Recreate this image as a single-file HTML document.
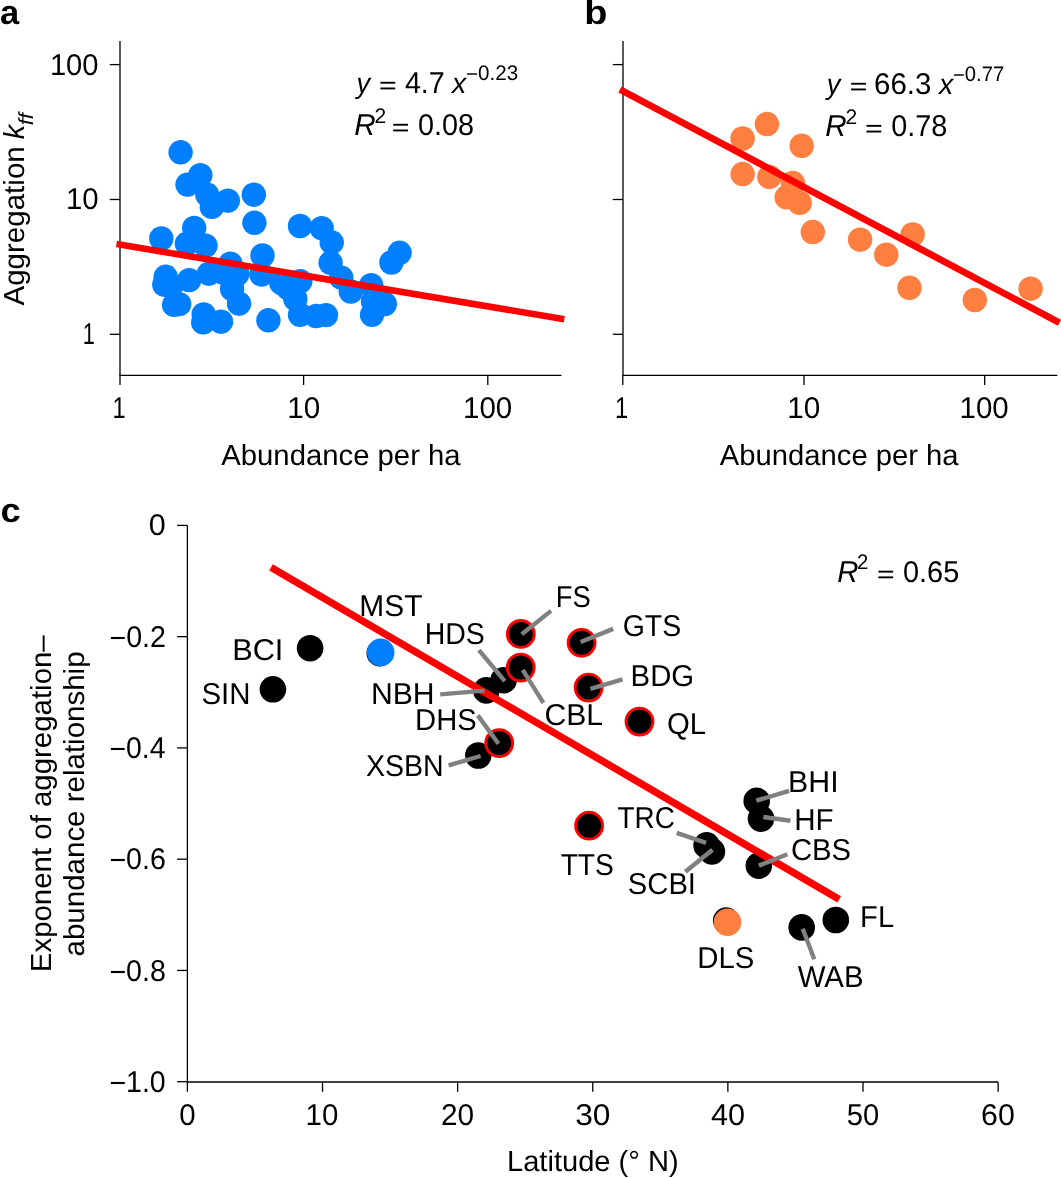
<!DOCTYPE html>
<html><head><meta charset="utf-8"><style>
html,body{margin:0;padding:0;background:#fff;}
svg{display:block;will-change:transform;}
text{font-family:"Liberation Sans",sans-serif;fill:#000;text-rendering:geometricPrecision;}
</style></head><body>
<svg width="1061" height="1178" viewBox="0 0 1061 1178">
<rect width="1061" height="1178" fill="#fff"/>
<text x="-0.01" y="24.30" font-size="34" font-weight="bold" textLength="19.19" lengthAdjust="spacingAndGlyphs">a</text>
<text x="584.20" y="24.10" font-size="34" font-weight="bold" textLength="23.15" lengthAdjust="spacingAndGlyphs">b</text>
<text x="0.48" y="521.70" font-size="34" font-weight="bold" textLength="20.18" lengthAdjust="spacingAndGlyphs">c</text>
<line x1="120" y1="41" x2="120" y2="375.4" stroke="#000" stroke-width="1.3" stroke-linecap="butt"/>
<line x1="119.35" y1="375.4" x2="561.4" y2="375.4" stroke="#000" stroke-width="1.3" stroke-linecap="butt"/>
<line x1="109.8" y1="64.6" x2="120" y2="64.6" stroke="#000" stroke-width="1.3" stroke-linecap="butt"/>
<line x1="109.8" y1="199.5" x2="120" y2="199.5" stroke="#000" stroke-width="1.3" stroke-linecap="butt"/>
<line x1="109.8" y1="334.3" x2="120" y2="334.3" stroke="#000" stroke-width="1.3" stroke-linecap="butt"/>
<line x1="120" y1="375.4" x2="120" y2="385" stroke="#000" stroke-width="1.3" stroke-linecap="butt"/>
<line x1="303.6" y1="375.4" x2="303.6" y2="385" stroke="#000" stroke-width="1.3" stroke-linecap="butt"/>
<line x1="487.8" y1="375.4" x2="487.8" y2="385" stroke="#000" stroke-width="1.3" stroke-linecap="butt"/>
<line x1="623" y1="41" x2="623" y2="375.4" stroke="#000" stroke-width="1.3" stroke-linecap="butt"/>
<line x1="622.35" y1="375.4" x2="1057.3" y2="375.4" stroke="#000" stroke-width="1.3" stroke-linecap="butt"/>
<line x1="612.8" y1="64.6" x2="623" y2="64.6" stroke="#000" stroke-width="1.3" stroke-linecap="butt"/>
<line x1="612.8" y1="199.5" x2="623" y2="199.5" stroke="#000" stroke-width="1.3" stroke-linecap="butt"/>
<line x1="612.8" y1="334.3" x2="623" y2="334.3" stroke="#000" stroke-width="1.3" stroke-linecap="butt"/>
<line x1="622.8" y1="375.4" x2="622.8" y2="385" stroke="#000" stroke-width="1.3" stroke-linecap="butt"/>
<line x1="804" y1="375.4" x2="804" y2="385" stroke="#000" stroke-width="1.3" stroke-linecap="butt"/>
<line x1="984.7" y1="375.4" x2="984.7" y2="385" stroke="#000" stroke-width="1.3" stroke-linecap="butt"/>
<text x="49.88" y="74.80" font-size="30.1" textLength="48.66" lengthAdjust="spacingAndGlyphs">100</text>
<text x="65.96" y="208.90" font-size="30.1" textLength="32.69" lengthAdjust="spacingAndGlyphs">10</text>
<text x="82.64" y="343.90" font-size="30.1" textLength="12.13" lengthAdjust="spacingAndGlyphs">1</text>
<text x="112.60" y="417.90" font-size="30.1" textLength="13.16" lengthAdjust="spacingAndGlyphs">1</text>
<text x="287.14" y="417.90" font-size="30.1" textLength="33.02" lengthAdjust="spacingAndGlyphs">10</text>
<text x="463.05" y="417.90" font-size="30.1" textLength="49.20" lengthAdjust="spacingAndGlyphs">100</text>
<text x="614.90" y="417.90" font-size="30.1" textLength="13.16" lengthAdjust="spacingAndGlyphs">1</text>
<text x="787.14" y="417.90" font-size="30.1" textLength="33.02" lengthAdjust="spacingAndGlyphs">10</text>
<text x="959.55" y="417.90" font-size="30.1" textLength="49.20" lengthAdjust="spacingAndGlyphs">100</text>
<text x="221.24" y="464.80" font-size="29" textLength="239.36" lengthAdjust="spacingAndGlyphs">Abundance per ha</text>
<text x="719.84" y="464.80" font-size="29" textLength="238.76" lengthAdjust="spacingAndGlyphs">Abundance per ha</text>
<text transform="rotate(-90)" x="-305.56" y="23.80" font-size="29" textLength="159.28" lengthAdjust="spacingAndGlyphs">Aggregation</text>
<text transform="rotate(-90)" x="-139.28" y="23.80" font-size="29" font-style="italic">k</text>
<text transform="rotate(-90)" x="-125.35" y="32.90" font-size="20.5" font-style="italic" textLength="12.33" lengthAdjust="spacingAndGlyphs">ff</text>
<circle cx="180.6" cy="152.3" r="12.2" fill="#0080ff"/>
<circle cx="200.3" cy="175.2" r="12.2" fill="#0080ff"/>
<circle cx="187.5" cy="184.6" r="12.2" fill="#0080ff"/>
<circle cx="207.3" cy="194.8" r="12.2" fill="#0080ff"/>
<circle cx="211.8" cy="206.9" r="12.2" fill="#0080ff"/>
<circle cx="227.8" cy="200.7" r="12.2" fill="#0080ff"/>
<circle cx="253.8" cy="194.7" r="12.2" fill="#0080ff"/>
<circle cx="254.4" cy="222.8" r="12.2" fill="#0080ff"/>
<circle cx="194.2" cy="227.9" r="12.2" fill="#0080ff"/>
<circle cx="161.3" cy="238.5" r="12.2" fill="#0080ff"/>
<circle cx="186.9" cy="243.7" r="12.2" fill="#0080ff"/>
<circle cx="205.5" cy="245.6" r="12.2" fill="#0080ff"/>
<circle cx="230.4" cy="263.6" r="12.2" fill="#0080ff"/>
<circle cx="262.5" cy="255.5" r="12.2" fill="#0080ff"/>
<circle cx="165.7" cy="276.8" r="12.2" fill="#0080ff"/>
<circle cx="164.3" cy="284.7" r="12.2" fill="#0080ff"/>
<circle cx="189.2" cy="280.1" r="12.2" fill="#0080ff"/>
<circle cx="208.9" cy="273.7" r="12.2" fill="#0080ff"/>
<circle cx="223" cy="272.5" r="12.2" fill="#0080ff"/>
<circle cx="237.3" cy="274" r="12.2" fill="#0080ff"/>
<circle cx="232.1" cy="289" r="12.2" fill="#0080ff"/>
<circle cx="239" cy="303.7" r="12.2" fill="#0080ff"/>
<circle cx="261.4" cy="274.5" r="12.2" fill="#0080ff"/>
<circle cx="174.1" cy="304.9" r="12.2" fill="#0080ff"/>
<circle cx="179.2" cy="304.1" r="12.2" fill="#0080ff"/>
<circle cx="203.7" cy="314.4" r="12.2" fill="#0080ff"/>
<circle cx="203.2" cy="322.4" r="12.2" fill="#0080ff"/>
<circle cx="221" cy="321.7" r="12.2" fill="#0080ff"/>
<circle cx="268.4" cy="320.3" r="12.2" fill="#0080ff"/>
<circle cx="300" cy="226" r="12.2" fill="#0080ff"/>
<circle cx="321.7" cy="228.1" r="12.2" fill="#0080ff"/>
<circle cx="331.7" cy="242.4" r="12.2" fill="#0080ff"/>
<circle cx="330.6" cy="262.8" r="12.2" fill="#0080ff"/>
<circle cx="341.3" cy="277.7" r="12.2" fill="#0080ff"/>
<circle cx="371.2" cy="285.2" r="12.2" fill="#0080ff"/>
<circle cx="391.4" cy="262.5" r="12.2" fill="#0080ff"/>
<circle cx="399.6" cy="252.8" r="12.2" fill="#0080ff"/>
<circle cx="300.3" cy="281.3" r="12.2" fill="#0080ff"/>
<circle cx="281.5" cy="283.2" r="12.2" fill="#0080ff"/>
<circle cx="295.3" cy="299" r="12.2" fill="#0080ff"/>
<circle cx="300" cy="314.8" r="12.2" fill="#0080ff"/>
<circle cx="316.2" cy="316" r="12.2" fill="#0080ff"/>
<circle cx="326" cy="315.1" r="12.2" fill="#0080ff"/>
<circle cx="350.8" cy="291.5" r="12.2" fill="#0080ff"/>
<circle cx="384.8" cy="304" r="12.2" fill="#0080ff"/>
<circle cx="372" cy="314.8" r="12.2" fill="#0080ff"/>
<circle cx="373" cy="301.3" r="12.2" fill="#0080ff"/>
<circle cx="288" cy="288" r="12.2" fill="#0080ff"/>
<circle cx="171" cy="286.4" r="12.2" fill="#0080ff"/>
<line x1="116.5" y1="244.0" x2="564.3" y2="319.2" stroke="#ff0000" stroke-width="6.5" stroke-linecap="butt"/>
<text x="356.44" y="92.80" font-size="29" font-style="italic" textLength="13.59" lengthAdjust="spacingAndGlyphs">y</text>
<rect x="380.40" y="81.80" width="14.8" height="1.9" fill="#000"/>
<rect x="380.40" y="87.50" width="14.8" height="1.9" fill="#000"/>
<text x="404.94" y="92.70" font-size="30.1" textLength="39.80" lengthAdjust="spacingAndGlyphs">4.7</text>
<text x="452.04" y="92.80" font-size="29" font-style="italic" textLength="14.23" lengthAdjust="spacingAndGlyphs">x</text>
<text x="465.98" y="79.90" font-size="21" textLength="52.12" lengthAdjust="spacingAndGlyphs"><tspan dy="1.15">−</tspan><tspan dy="-1.15">0.23</tspan></text>
<text x="354.19" y="134.80" font-size="30.1" font-style="italic" textLength="21.43" lengthAdjust="spacingAndGlyphs">R</text>
<text x="374.64" y="122.80" font-size="21" textLength="11.72" lengthAdjust="spacingAndGlyphs">2</text>
<rect x="393.20" y="123.80" width="14.8" height="1.9" fill="#000"/>
<rect x="393.20" y="129.50" width="14.8" height="1.9" fill="#000"/>
<text x="418.07" y="134.50" font-size="30.1" textLength="56.08" lengthAdjust="spacingAndGlyphs">0.08</text>
<circle cx="742.6" cy="138.5" r="12.25" fill="#ff7f40"/>
<circle cx="766.9" cy="124.1" r="12.25" fill="#ff7f40"/>
<circle cx="801.7" cy="145.8" r="12.25" fill="#ff7f40"/>
<circle cx="742.6" cy="174.1" r="12.25" fill="#ff7f40"/>
<circle cx="769.4" cy="176.9" r="12.25" fill="#ff7f40"/>
<circle cx="792.9" cy="183.1" r="12.25" fill="#ff7f40"/>
<circle cx="786.7" cy="197.3" r="12.25" fill="#ff7f40"/>
<circle cx="799.7" cy="202.9" r="12.25" fill="#ff7f40"/>
<circle cx="812.8" cy="232.1" r="12.25" fill="#ff7f40"/>
<circle cx="860.1" cy="239.7" r="12.25" fill="#ff7f40"/>
<circle cx="886.3" cy="254.7" r="12.25" fill="#ff7f40"/>
<circle cx="912.6" cy="234.5" r="12.25" fill="#ff7f40"/>
<circle cx="909.5" cy="287.8" r="12.25" fill="#ff7f40"/>
<circle cx="974.8" cy="300.0" r="12.25" fill="#ff7f40"/>
<circle cx="1030.6" cy="288.7" r="12.25" fill="#ff7f40"/>
<line x1="620.0" y1="89.5" x2="1059.5" y2="322.8" stroke="#ff0000" stroke-width="6.8" stroke-linecap="butt"/>
<text x="826.65" y="93.80" font-size="29" font-style="italic" textLength="13.68" lengthAdjust="spacingAndGlyphs">y</text>
<rect x="851.10" y="82.80" width="14.8" height="1.9" fill="#000"/>
<rect x="851.10" y="88.50" width="14.8" height="1.9" fill="#000"/>
<text x="874.11" y="93.60" font-size="30.1" textLength="57.29" lengthAdjust="spacingAndGlyphs">66.3</text>
<text x="939.05" y="93.80" font-size="29" font-style="italic" textLength="14.31" lengthAdjust="spacingAndGlyphs">x</text>
<text x="953.00" y="80.70" font-size="21" textLength="51.22" lengthAdjust="spacingAndGlyphs"><tspan dy="1.15">−</tspan><tspan dy="-1.15">0.77</tspan></text>
<text x="825.19" y="135.90" font-size="30.1" font-style="italic" textLength="21.43" lengthAdjust="spacingAndGlyphs">R</text>
<text x="845.64" y="123.80" font-size="21" textLength="11.72" lengthAdjust="spacingAndGlyphs">2</text>
<rect x="866.50" y="124.90" width="14.8" height="1.9" fill="#000"/>
<rect x="866.50" y="130.60" width="14.8" height="1.9" fill="#000"/>
<text x="891.27" y="135.70" font-size="30.1" textLength="56.08" lengthAdjust="spacingAndGlyphs">0.78</text>
<line x1="187.4" y1="525.4" x2="187.4" y2="1082.0" stroke="#000" stroke-width="1.3" stroke-linecap="butt"/>
<line x1="186.75" y1="1082.0" x2="998" y2="1082.0" stroke="#000" stroke-width="1.3" stroke-linecap="butt"/>
<line x1="177.1" y1="525.4" x2="187.4" y2="525.4" stroke="#000" stroke-width="1.3" stroke-linecap="butt"/>
<line x1="177.1" y1="636.66" x2="187.4" y2="636.66" stroke="#000" stroke-width="1.3" stroke-linecap="butt"/>
<line x1="177.1" y1="747.92" x2="187.4" y2="747.92" stroke="#000" stroke-width="1.3" stroke-linecap="butt"/>
<line x1="177.1" y1="859.1800000000001" x2="187.4" y2="859.1800000000001" stroke="#000" stroke-width="1.3" stroke-linecap="butt"/>
<line x1="177.1" y1="970.44" x2="187.4" y2="970.44" stroke="#000" stroke-width="1.3" stroke-linecap="butt"/>
<line x1="177.1" y1="1081.7" x2="187.4" y2="1081.7" stroke="#000" stroke-width="1.3" stroke-linecap="butt"/>
<line x1="187.4" y1="1082.0" x2="187.4" y2="1091.8" stroke="#000" stroke-width="1.3" stroke-linecap="butt"/>
<line x1="322.52" y1="1082.0" x2="322.52" y2="1091.8" stroke="#000" stroke-width="1.3" stroke-linecap="butt"/>
<line x1="457.64" y1="1082.0" x2="457.64" y2="1091.8" stroke="#000" stroke-width="1.3" stroke-linecap="butt"/>
<line x1="592.76" y1="1082.0" x2="592.76" y2="1091.8" stroke="#000" stroke-width="1.3" stroke-linecap="butt"/>
<line x1="727.88" y1="1082.0" x2="727.88" y2="1091.8" stroke="#000" stroke-width="1.3" stroke-linecap="butt"/>
<line x1="863.0" y1="1082.0" x2="863.0" y2="1091.8" stroke="#000" stroke-width="1.3" stroke-linecap="butt"/>
<line x1="998.12" y1="1082.0" x2="998.12" y2="1091.8" stroke="#000" stroke-width="1.3" stroke-linecap="butt"/>
<text x="148.81" y="535.40" font-size="30.1" textLength="16.99" lengthAdjust="spacingAndGlyphs">0</text>
<text x="109.38" y="646.86" font-size="30.1" textLength="56.66" lengthAdjust="spacingAndGlyphs"><tspan dy="1.0">−</tspan><tspan dy="-1.0">0.2</tspan></text>
<text x="109.40" y="758.12" font-size="30.1" textLength="56.03" lengthAdjust="spacingAndGlyphs"><tspan dy="1.0">−</tspan><tspan dy="-1.0">0.4</tspan></text>
<text x="109.39" y="869.38" font-size="30.1" textLength="56.47" lengthAdjust="spacingAndGlyphs"><tspan dy="1.0">−</tspan><tspan dy="-1.0">0.6</tspan></text>
<text x="109.39" y="980.64" font-size="30.1" textLength="56.45" lengthAdjust="spacingAndGlyphs"><tspan dy="1.0">−</tspan><tspan dy="-1.0">0.8</tspan></text>
<text x="109.39" y="1091.90" font-size="30.1" textLength="56.32" lengthAdjust="spacingAndGlyphs"><tspan dy="1.0">−</tspan><tspan dy="-1.0">1.0</tspan></text>
<text x="179.20" y="1124.50" font-size="30.1" textLength="16.40" lengthAdjust="spacingAndGlyphs">0</text>
<text x="305.57" y="1124.50" font-size="30.1" textLength="32.80" lengthAdjust="spacingAndGlyphs">10</text>
<text x="440.89" y="1124.50" font-size="30.1" textLength="33.16" lengthAdjust="spacingAndGlyphs">20</text>
<text x="575.15" y="1124.50" font-size="30.1" textLength="35.24" lengthAdjust="spacingAndGlyphs">30</text>
<text x="711.08" y="1124.50" font-size="30.1" textLength="34.10" lengthAdjust="spacingAndGlyphs">40</text>
<text x="846.78" y="1124.50" font-size="30.1" textLength="32.40" lengthAdjust="spacingAndGlyphs">50</text>
<text x="981.08" y="1124.50" font-size="30.1" textLength="33.72" lengthAdjust="spacingAndGlyphs">60</text>
<text x="507.02" y="1171.40" font-size="29" textLength="171.59" lengthAdjust="spacingAndGlyphs">Latitude (° N)</text>
<text transform="rotate(-90)" x="-972.21" y="51.00" font-size="29" textLength="336.93" lengthAdjust="spacingAndGlyphs">Exponent of aggregation–</text>
<text transform="rotate(-90)" x="-956.45" y="83.90" font-size="29" textLength="304.99" lengthAdjust="spacingAndGlyphs">abundance relationship</text>
<text x="837.20" y="581.70" font-size="30.1" font-style="italic" textLength="21.21" lengthAdjust="spacingAndGlyphs">R</text>
<text x="856.97" y="568.60" font-size="21" textLength="11.35" lengthAdjust="spacingAndGlyphs">2</text>
<rect x="878.40" y="570.70" width="14.8" height="1.9" fill="#000"/>
<rect x="878.40" y="576.40" width="14.8" height="1.9" fill="#000"/>
<text x="902.97" y="581.70" font-size="30.1" textLength="56.24" lengthAdjust="spacingAndGlyphs">0.65</text>
<circle cx="310.1" cy="648.2" r="13.3" fill="#000"/>
<circle cx="272.9" cy="689.3" r="13.3" fill="#000"/>
<circle cx="379.8" cy="653.2" r="13.3" fill="#000"/>
<circle cx="486.3" cy="690.4" r="13.3" fill="#000"/>
<circle cx="503.6" cy="680.2" r="13.3" fill="#000"/>
<circle cx="478.3" cy="755.5" r="13.3" fill="#000"/>
<circle cx="706.6" cy="845.4" r="13.3" fill="#000"/>
<circle cx="711.9" cy="851.4" r="13.3" fill="#000"/>
<circle cx="756.7" cy="800.9" r="13.3" fill="#000"/>
<circle cx="761" cy="818.6" r="13.3" fill="#000"/>
<circle cx="758.8" cy="865.6" r="13.3" fill="#000"/>
<circle cx="835.8" cy="920" r="13.3" fill="#000"/>
<circle cx="801.7" cy="927.4" r="13.3" fill="#000"/>
<circle cx="726.2" cy="920.6" r="13.3" fill="#000"/>
<circle cx="380.7" cy="652.4" r="13.8" fill="#0080ff"/>
<circle cx="727.5" cy="922.2" r="13.8" fill="#ff7f40"/>
<line x1="271" y1="567.4" x2="839.2" y2="899.4" stroke="#ff0000" stroke-width="7.2" stroke-linecap="butt"/>
<circle cx="520.8" cy="633.9" r="13.45" fill="#000" stroke="#ff0000" stroke-width="2.9"/>
<circle cx="520.7" cy="667.6" r="13.45" fill="#000" stroke="#ff0000" stroke-width="2.9"/>
<circle cx="581.6" cy="642.8" r="13.45" fill="#000" stroke="#ff0000" stroke-width="2.9"/>
<circle cx="588.6" cy="687.6" r="13.45" fill="#000" stroke="#ff0000" stroke-width="2.9"/>
<circle cx="639.5" cy="721.6" r="13.45" fill="#000" stroke="#ff0000" stroke-width="2.9"/>
<circle cx="499.2" cy="743.1" r="13.45" fill="#000" stroke="#ff0000" stroke-width="2.9"/>
<circle cx="589.1" cy="825.7" r="13.45" fill="#000" stroke="#ff0000" stroke-width="2.9"/>
<line x1="521.7" y1="634.3" x2="551" y2="610.9" stroke="#808080" stroke-width="4.4" stroke-linecap="butt"/>
<line x1="504.8" y1="681.2" x2="478.9" y2="650.1" stroke="#808080" stroke-width="4.4" stroke-linecap="butt"/>
<line x1="522.7" y1="669.8" x2="543.4" y2="702.8" stroke="#808080" stroke-width="4.4" stroke-linecap="butt"/>
<line x1="484.5" y1="690.6" x2="440.2" y2="694.4" stroke="#808080" stroke-width="4.4" stroke-linecap="butt"/>
<line x1="580.6" y1="642" x2="613.1" y2="628.9" stroke="#808080" stroke-width="4.4" stroke-linecap="butt"/>
<line x1="590.4" y1="688.8" x2="622.4" y2="679.3" stroke="#808080" stroke-width="4.4" stroke-linecap="butt"/>
<line x1="498.5" y1="743.7" x2="477.8" y2="715.4" stroke="#808080" stroke-width="4.4" stroke-linecap="butt"/>
<line x1="480.6" y1="756" x2="448.6" y2="765.4" stroke="#808080" stroke-width="4.4" stroke-linecap="butt"/>
<line x1="706.1" y1="842.8" x2="676.7" y2="832.8" stroke="#808080" stroke-width="4.4" stroke-linecap="butt"/>
<line x1="712.5" y1="849.7" x2="685.3" y2="871.8" stroke="#808080" stroke-width="4.4" stroke-linecap="butt"/>
<line x1="756.2" y1="800.7" x2="789.1" y2="790.9" stroke="#808080" stroke-width="4.4" stroke-linecap="butt"/>
<line x1="763.3" y1="817" x2="790.4" y2="820.8" stroke="#808080" stroke-width="4.4" stroke-linecap="butt"/>
<line x1="758.9" y1="865.6" x2="787.4" y2="854.3" stroke="#808080" stroke-width="4.4" stroke-linecap="butt"/>
<line x1="802.7" y1="928.7" x2="814.3" y2="959.3" stroke="#808080" stroke-width="4.4" stroke-linecap="butt"/>
<text x="232.18" y="660.10" font-size="30.1" textLength="51.15" lengthAdjust="spacingAndGlyphs">BCI</text>
<text x="201.46" y="704.30" font-size="30.1" textLength="49.03" lengthAdjust="spacingAndGlyphs">SIN</text>
<text x="359.35" y="615.70" font-size="30.1" textLength="63.14" lengthAdjust="spacingAndGlyphs">MST</text>
<text x="555.75" y="606.60" font-size="30.1" textLength="35.00" lengthAdjust="spacingAndGlyphs">FS</text>
<text x="622.67" y="635.80" font-size="30.1" textLength="58.54" lengthAdjust="spacingAndGlyphs">GTS</text>
<text x="424.66" y="643.90" font-size="30.1" textLength="60.14" lengthAdjust="spacingAndGlyphs">HDS</text>
<text x="630.60" y="685.60" font-size="30.1" textLength="63.49" lengthAdjust="spacingAndGlyphs">BDG</text>
<text x="370.92" y="703.60" font-size="30.1" textLength="63.74" lengthAdjust="spacingAndGlyphs">NBH</text>
<text x="667.01" y="733.80" font-size="30.1" textLength="39.06" lengthAdjust="spacingAndGlyphs">QL</text>
<text x="415.11" y="730.30" font-size="30.1" textLength="61.63" lengthAdjust="spacingAndGlyphs">DHS</text>
<text x="365.96" y="775.60" font-size="30.1" textLength="77.77" lengthAdjust="spacingAndGlyphs">XSBN</text>
<text x="788.12" y="792.00" font-size="30.1" textLength="50.48" lengthAdjust="spacingAndGlyphs">BHI</text>
<text x="617.57" y="827.90" font-size="30.1" textLength="57.29" lengthAdjust="spacingAndGlyphs">TRC</text>
<text x="794.17" y="829.70" font-size="30.1" textLength="39.41" lengthAdjust="spacingAndGlyphs">HF</text>
<text x="790.92" y="859.60" font-size="30.1" textLength="60.13" lengthAdjust="spacingAndGlyphs">CBS</text>
<text x="560.67" y="874.60" font-size="30.1" textLength="53.23" lengthAdjust="spacingAndGlyphs">TTS</text>
<text x="627.87" y="893.50" font-size="30.1" textLength="68.12" lengthAdjust="spacingAndGlyphs">SCBI</text>
<text x="860.11" y="927.30" font-size="30.1" textLength="33.95" lengthAdjust="spacingAndGlyphs">FL</text>
<text x="697.29" y="967.90" font-size="30.1" textLength="57.05" lengthAdjust="spacingAndGlyphs">DLS</text>
<text x="797.67" y="986.80" font-size="30.1" textLength="65.85" lengthAdjust="spacingAndGlyphs">WAB</text>
<text x="544.57" y="724.80" font-size="30.1" textLength="58.53" lengthAdjust="spacingAndGlyphs">CBL</text>
</svg></body></html>
